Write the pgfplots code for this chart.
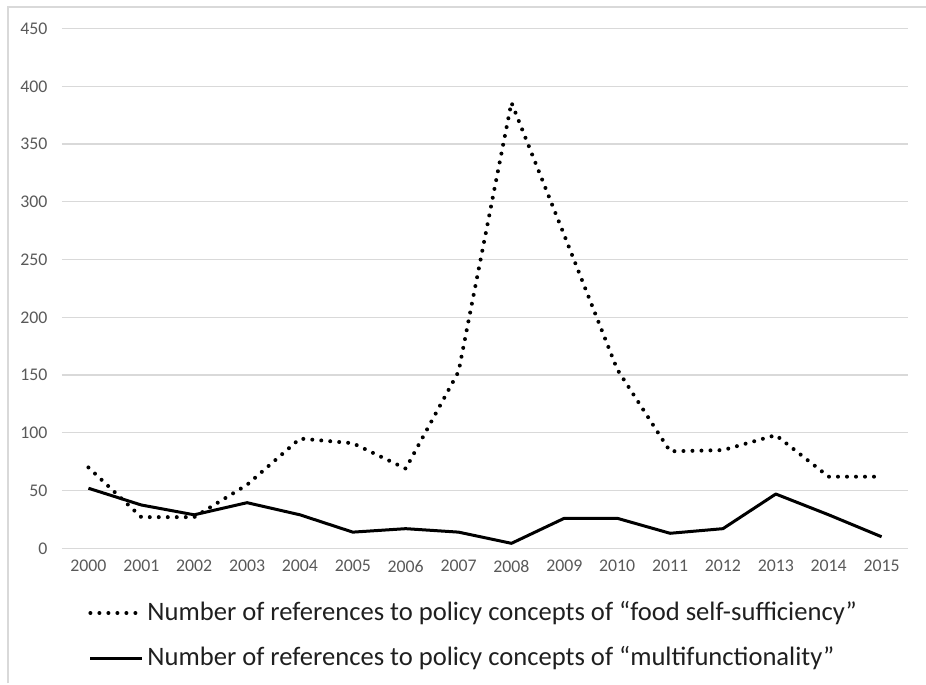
\documentclass[border=0pt]{standalone}
\usepackage{pgfplots}
\pgfplotsset{compat=1.18}
\usepackage{fontspec}
\setmainfont{Carlito}
\definecolor{gridc}{HTML}{D9D9D9}
\definecolor{tickc}{HTML}{595959}
\definecolor{framec}{HTML}{D9D9D9}
\begin{document}
\begin{tikzpicture}[x=1pt,y=1pt]
\begin{axis}[
  at={(0,0)}, anchor=south west,
  scale only axis,
  width=423pt, height=259.85pt,
  xmin=1999.5, xmax=2015.5,
  ymin=0, ymax=450,
  ytick={0,50,...,450},
  xtick=data,
  /pgf/number format/assume math mode=true,
  xticklabel style={/pgf/number format/1000 sep={}, font=\fontsize{8.9}{10}\selectfont, text=tickc},
  yticklabel style={font=\fontsize{8.9}{10}\selectfont, text=tickc},
  ymajorgrids,
  major grid style={gridc, line width=0.6pt},
  axis line style={draw=none},
  major tick length=0pt,
  yticklabel style={xshift=-3.8pt},
  xticklabel style={yshift=-2.5pt},
  legend cell align=left,
  legend style={draw=none, fill=none, at={(13pt,-43.6pt)}, anchor=west,
    font=\fontsize{13.3}{15}\selectfont, text=black!88,
    row sep=9.5pt, inner sep=0pt,
    nodes={inner xsep=1.5pt, inner ysep=0pt, text height=10pt, text depth=3pt}},
  legend image code/.code={\draw[#1] (-1.5pt,0pt) -- (24.5pt,0pt);},
]
\addplot[black, line width=2pt, line cap=round, dash pattern=on 0pt off 4.5pt] coordinates {
 (2000,70) (2001,27) (2002,27) (2003,55) (2004,95) (2005,91) (2006,69) (2007,153)
 (2008,386) (2009,271) (2010,155) (2011,84) (2012,85) (2013,98) (2014,62) (2015,62)};
\addlegendentry{Number of references to policy concepts of “food self-sufficiency”}
\addplot[black, line width=1.5pt, line join=round] coordinates {
 (2000,52) (2001,37.5) (2002,29) (2003,39.5) (2004,29) (2005,14) (2006,17) (2007,14)
 (2008,4.3) (2009,26) (2010,26) (2011,13) (2012,17) (2013,47) (2014,29) (2015,10)};
\addlegendentry{Number of references to policy concepts of “multifunctionality”}
\end{axis}
\draw[framec, line width=0.7pt] (-27pt,-67.5pt) -- (-27pt,270.6pt) -- (432pt,270.6pt);
\pgfresetboundingbox
\path (-31pt,-68.35pt) rectangle (432pt,274.15pt);
\end{tikzpicture}
\end{document}
